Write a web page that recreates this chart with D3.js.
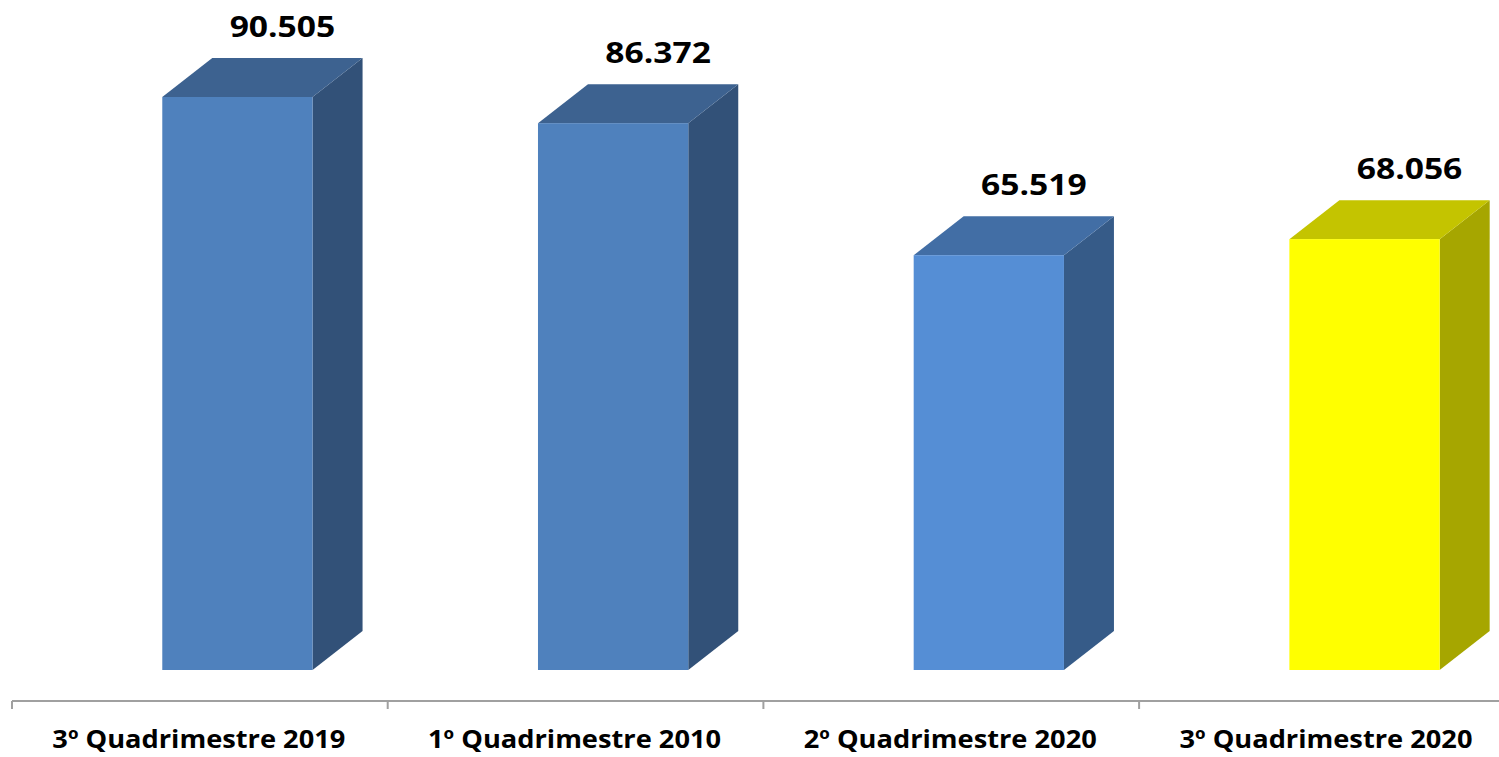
<!DOCTYPE html>
<html>
<head>
<meta charset="utf-8">
<script src="https://cdn.jsdelivr.net/npm/d3@7"></script>
<style>
  html, body { margin: 0; padding: 0; background: #fff; }
  svg { display: block; }
  text { font-family: "Open Sans", "DejaVu Sans", sans-serif; font-weight: 700; fill: #000; }
</style>
</head>
<body>
<svg id="chart" width="1499" height="757"></svg>
<script>
// Quarterly totals (thousands separator shown as ".")
const categories = ["3º Quadrimestre 2019", "1º Quadrimestre 2010", "2º Quadrimestre 2020", "3º Quadrimestre 2020"];
const values = [90505, 86372, 65519, 68056];
const valueLabels = ["90.505", "86.372", "65.519", "68.056"];

// Face colours per bar: front, top, side
const frontColors = ["#4f81bd", "#4f81bd", "#558ed5", "#ffff00"];
const topColors   = ["#3d6290", "#3d6290", "#426ea5", "#c4c400"];
const sideColors  = ["#325178", "#325178", "#365b88", "#a6a600"];

const svg = d3.select("#chart");
const W = 1499, H = 757;

const x = d3.scaleBand()
  .domain(categories)
  .range([12, 12 + 4 * 375.7])
  .paddingInner(0)
  .paddingOuter(0);

const y = d3.scaleLinear()
  .domain([0, 90505])
  .range([670, 97]);

const depthX = 50, depthY = -39;
const bw = x.bandwidth();
const barOffset = bw * 0.4, barWidth = bw * 0.4;

const g = svg.append("g");

const bars = g.selectAll("g.bar")
  .data(values.map((v, i) => ({ v, i, c: categories[i] })))
  .join("g")
  .attr("class", "bar");

// side face
bars.append("path")
  .attr("fill", d => sideColors[d.i])
  .attr("d", d => {
    const x1 = x(d.c) + barOffset + barWidth;
    const y0 = y(0), y1 = y(d.v);
    return `M${x1},${y0}L${x1 + depthX},${y0 + depthY}L${x1 + depthX},${y1 + depthY}L${x1},${y1}Z`;
  });

// top face
bars.append("path")
  .attr("fill", d => topColors[d.i])
  .attr("d", d => {
    const x0 = x(d.c) + barOffset, x1 = x0 + barWidth;
    const y1 = y(d.v);
    return `M${x0},${y1}L${x0 + depthX},${y1 + depthY}L${x1 + depthX},${y1 + depthY}L${x1},${y1}Z`;
  });

// front face
bars.append("rect")
  .attr("fill", d => frontColors[d.i])
  .attr("x", d => x(d.c) + barOffset)
  .attr("y", d => y(d.v))
  .attr("width", barWidth)
  .attr("height", d => y(0) - y(d.v));

// value labels
bars.append("text")
  .attr("text-anchor", "middle")
  .attr("font-size", 28)
  .attr("transform", d => {
    const cx = x(d.c) + barOffset + barWidth / 2 + 45;
    const by = y(d.v) + depthY - 21;
    return `translate(${cx},${by}) scale(1.2,1)`;
  })
  .text(d => valueLabels[d.i]);

// category axis
const axisY = 701;
g.append("line")
  .attr("x1", 12).attr("x2", W)
  .attr("y1", axisY).attr("y2", axisY)
  .attr("stroke", "#a0a0a0").attr("stroke-width", 2);

const tickXs = categories.map(c => x(c));
g.selectAll("line.tick")
  .data(tickXs)
  .join("line")
  .attr("class", "tick")
  .attr("x1", d => d).attr("x2", d => d)
  .attr("y1", axisY).attr("y2", axisY + 8)
  .attr("stroke", "#a0a0a0").attr("stroke-width", 2);

g.selectAll("text.cat")
  .data(categories)
  .join("text")
  .attr("class", "cat")
  .attr("text-anchor", "middle")
  .attr("font-size", 25)
  .attr("transform", d => `translate(${x(d) + bw / 2 - 1},748) scale(1.09,1)`)
  .text(d => d);
</script>
</body>
</html>
